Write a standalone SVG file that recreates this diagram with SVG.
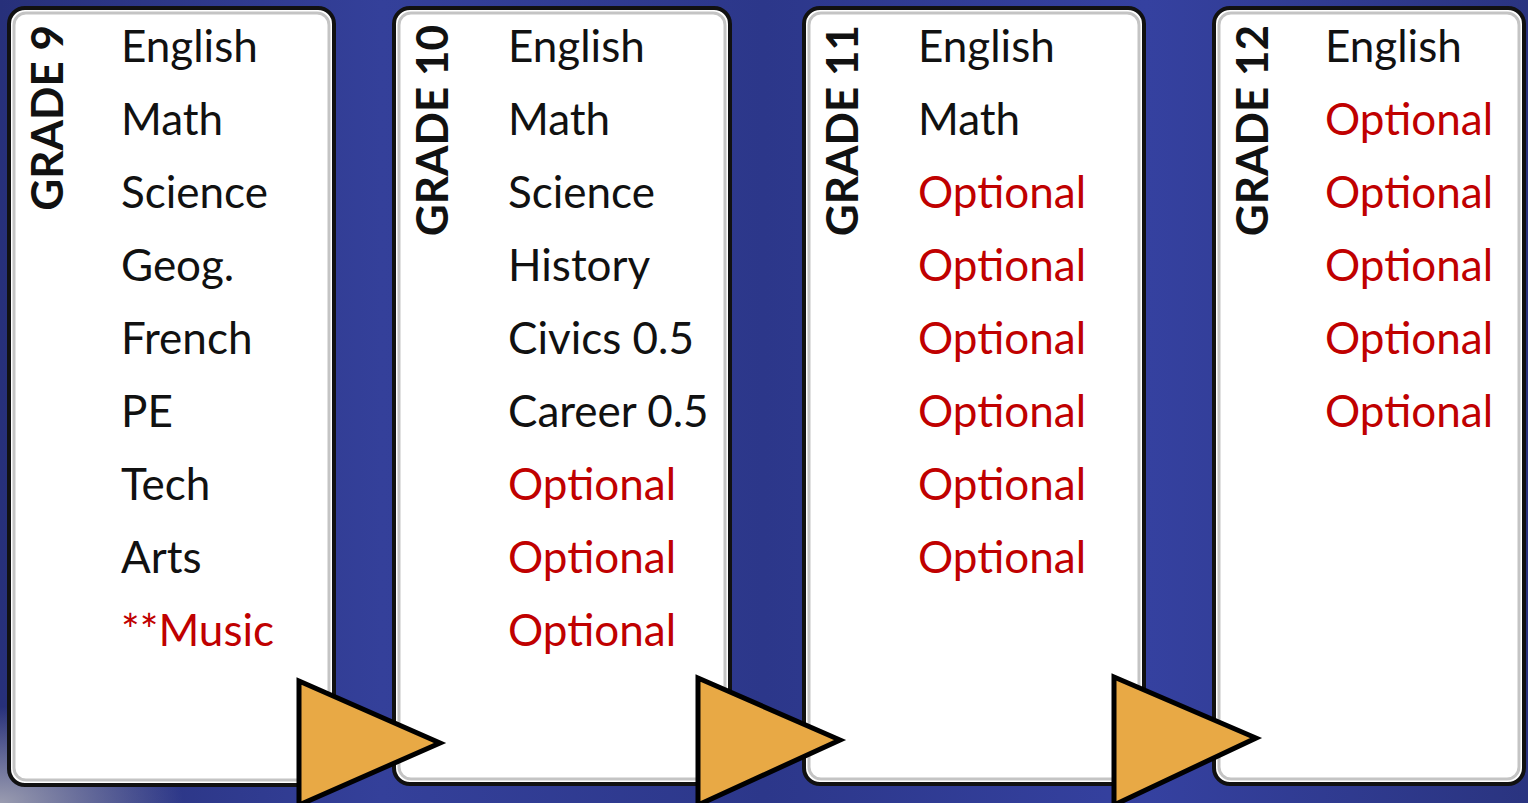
<svg xmlns="http://www.w3.org/2000/svg" width="1528" height="803" viewBox="0 0 1528 803">
<defs>
<linearGradient id="bg" x1="0" y1="0" x2="1" y2="0">
<stop offset="0" stop-color="#27307a"/>
<stop offset="0.25" stop-color="#34409a"/>
<stop offset="0.5" stop-color="#2c378a"/>
<stop offset="0.75" stop-color="#3541a0"/>
<stop offset="1" stop-color="#2a3480"/>
</linearGradient>
<radialGradient id="corner" cx="0" cy="1" r="0.12">
<stop offset="0" stop-color="#9a9cb0"/>
<stop offset="1" stop-color="#9a9cb0" stop-opacity="0"/>
</radialGradient>
<style>
.box{fill:#ffffff;stroke:#111111;stroke-width:4}
.inner{fill:none;stroke:#c4c4c4;stroke-width:3}
.grade{font-family:Lato,"Open Sans",sans-serif;font-weight:bold;font-size:44px;fill:#111111;text-anchor:end}
.s{font-family:Lato,"Open Sans",sans-serif;font-size:44px;fill:#111111}
.o{font-family:Lato,"Open Sans",sans-serif;font-size:44px;fill:#c00000}
.arrow{fill:#e8a945;stroke:#000000;stroke-width:5;stroke-linejoin:miter}
</style>
</defs>
<rect x="0" y="0" width="1528" height="803" fill="url(#bg)"/>
<rect x="0" y="0" width="1528" height="803" fill="url(#corner)"/>

<g id="grade9">
<rect class="box" x="9" y="8" width="325" height="777" rx="16"/>
<rect class="inner" x="14" y="13" width="315" height="767" rx="12"/>
<text class="grade" transform="translate(63,25) rotate(-90)">GRADE 9</text>
<text class="s" x="121" y="62">English</text>
<text class="s" x="121" y="135">Math</text>
<text class="s" x="121" y="208">Science</text>
<text class="s" x="121" y="281">Geog.</text>
<text class="s" x="121" y="354">French</text>
<text class="s" x="121" y="427">PE</text>
<text class="s" x="121" y="500">Tech</text>
<text class="s" x="121" y="573">Arts</text>
<text class="o" x="121" y="646">**Music</text>
</g>

<g id="grade10">
<rect class="box" x="394" y="8" width="336" height="776" rx="16"/>
<rect class="inner" x="399" y="13" width="326" height="766" rx="12"/>
<text class="grade" transform="translate(448,25) rotate(-90)">GRADE 10</text>
<text class="s" x="508" y="62">English</text>
<text class="s" x="508" y="135">Math</text>
<text class="s" x="508" y="208">Science</text>
<text class="s" x="508" y="281">History</text>
<text class="s" x="508" y="354">Civics 0.5</text>
<text class="s" x="508" y="427">Career 0.5</text>
<text class="o" x="508" y="500">Optional</text>
<text class="o" x="508" y="573">Optional</text>
<text class="o" x="508" y="646">Optional</text>
</g>

<g id="grade11">
<rect class="box" x="804" y="8" width="340" height="776" rx="16"/>
<rect class="inner" x="809" y="13" width="330" height="766" rx="12"/>
<text class="grade" transform="translate(858,25) rotate(-90)">GRADE 11</text>
<text class="s" x="918" y="62">English</text>
<text class="s" x="918" y="135">Math</text>
<text class="o" x="918" y="208">Optional</text>
<text class="o" x="918" y="281">Optional</text>
<text class="o" x="918" y="354">Optional</text>
<text class="o" x="918" y="427">Optional</text>
<text class="o" x="918" y="500">Optional</text>
<text class="o" x="918" y="573">Optional</text>
</g>

<g id="grade12">
<rect class="box" x="1214" y="8" width="310" height="776" rx="16"/>
<rect class="inner" x="1219" y="13" width="300" height="766" rx="12"/>
<text class="grade" transform="translate(1268,25) rotate(-90)">GRADE 12</text>
<text class="s" x="1325" y="62">English</text>
<text class="o" x="1325" y="135">Optional</text>
<text class="o" x="1325" y="208">Optional</text>
<text class="o" x="1325" y="281">Optional</text>
<text class="o" x="1325" y="354">Optional</text>
<text class="o" x="1325" y="427">Optional</text>
</g>

<g id="connectors">
<polygon class="arrow" points="299,681 440,743 299,805"/>
<polygon class="arrow" points="698,678 840,740 698,805"/>
<polygon class="arrow" points="1114,677 1256,738 1114,805"/>
</g>
</svg>
